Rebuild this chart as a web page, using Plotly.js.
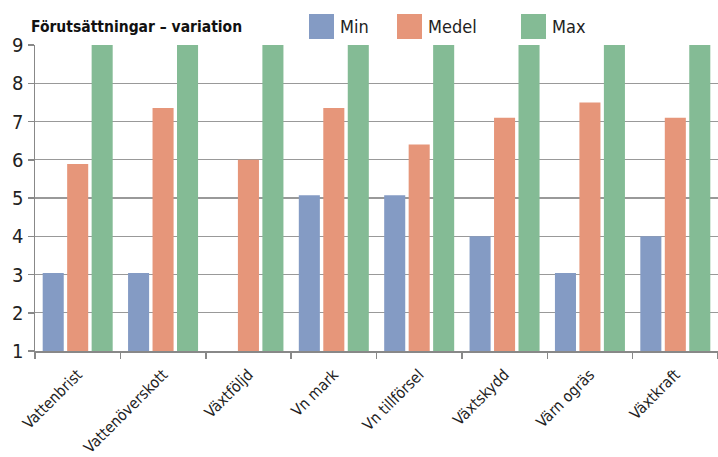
<!DOCTYPE html>
<html>
<head>
<meta charset="utf-8">
<script src="https://cdn.plot.ly/plotly-3.0.1.min.js"></script>
<style>html,body{margin:0;padding:0;background:#fff;}#chart{width:718px;height:457px;}</style>
</head>
<body>
<div id="chart"></div>
<script>
const categories = ["Vattenbrist", "Vattenöverskott", "Växtföljd", "Vn mark", "Vn tillförsel", "Växtskydd", "Värn ogräs", "Växtkraft"];
const seriesNames = ["Min", "Medel", "Max"];
const minValues = [3.04, 3.04, null, 5.07, 5.07, 4.0, 3.04, 4.0];
const medelValues = [5.89, 7.35, 6.0, 7.35, 6.4, 7.1, 7.5, 7.1];
const maxValues = [9, 9, 9, 9, 9, 9, 9, 9];
const colors = ["#849bc4", "#e6967a", "#84bb95"];
const titleText = "Förutsättningar – variation";

const font = "'Liberation Sans Narrow', 'DejaVu Sans Condensed', 'Liberation Sans', sans-serif";
const allValues = [minValues, medelValues, maxValues];
const traces = seriesNames.map((n, i) => ({
  type: "bar", name: n, x: categories, y: allValues[i],
  marker: {color: colors[i]}, showlegend: false, hoverinfo: "x+y"
}));

const shapes = [];
const annotations = [{
  text: "<b>" + titleText + "</b>", xref: "paper", yref: "paper",
  x: -0.009, y: (351 - 27) / 306, xanchor: "left", yanchor: "middle", showarrow: false,
  font: {family: font, size: 15.5, color: "#111"}
}];
const legX = [309, 397, 521];
seriesNames.forEach((n, i) => {
  shapes.push({type: "rect", xref: "paper", yref: "paper",
    x0: (legX[i] - 35) / 683, x1: (legX[i] + 25 - 35) / 683,
    y0: (351 - 39) / 306, y1: (351 - 14) / 306,
    fillcolor: colors[i], line: {width: 0}});
  annotations.push({text: n, xref: "paper", yref: "paper",
    x: (legX[i] + 29 - 35) / 683, y: (351 - 26) / 306, xanchor: "left", yanchor: "middle",
    showarrow: false, font: {family: font, size: 18, color: "#222"}});
});

const layout = {
  width: 718, height: 457,
  margin: {l: 35, r: 0, t: 45, b: 106, pad: 0},
  paper_bgcolor: "#fff", plot_bgcolor: "#fff",
  barmode: "group", bargap: 0.14, bargroupgap: 0.14,
  font: {family: font, size: 17, color: "#222"},
  xaxis: {
    type: "category", tickangle: -45, ticks: "outside", ticklen: 6, tickwidth: 1.5,
    tickcolor: "#888", tickson: "boundaries", showline: true, linecolor: "#888", linewidth: 1.5,
    showgrid: false, tickfont: {family: font, size: 15.5, color: "#222"}, automargin: false,
    ticklabelstandoff: 7
  },
  yaxis: {
    range: [1, 9], dtick: 1, tick0: 1, ticks: "outside", ticklen: 6, tickwidth: 1.5, tickcolor: "#888",
    showline: true, linecolor: "#888", linewidth: 1.5, showgrid: true, gridcolor: "#999", gridwidth: 1.4,
    zeroline: false, tickfont: {family: font, size: 20, color: "#222"}, automargin: false
  },
  shapes: shapes, annotations: annotations, showlegend: false
};
Plotly.newPlot("chart", traces, layout, {displayModeBar: false, staticPlot: true});
</script>
</body>
</html>
